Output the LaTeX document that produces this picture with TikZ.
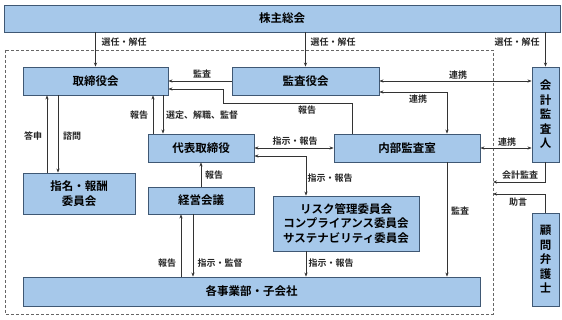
\documentclass[tikz,border=0pt]{standalone}
\usepackage{fontspec}
\setmainfont{Noto Sans CJK JP}[BoldFont={Noto Sans CJK JP Bold}]
\usetikzlibrary{arrows.meta}
\definecolor{boxfill}{HTML}{A6C8EA}
\definecolor{boxline}{HTML}{3F5874}
\definecolor{lncol}{HTML}{333333}
\tikzset{
  box/.style={draw=boxline, fill=boxfill, line width=0.9pt, inner sep=0pt, align=center,
    font=\bfseries\fontsize{11.5}{14.5}\selectfont},
  lab/.style={inner sep=0pt, font=\bfseries\fontsize{9}{11}\selectfont, text=black!85},
  conn/.style={draw=lncol, line width=0.8pt},
  arr/.style={conn, -{Stealth[length=4pt,width=3.2pt]}},
  darr/.style={conn, {Stealth[length=4pt,width=3.2pt]}-{Stealth[length=4pt,width=3.2pt]}},
  grp/.style={draw=gray!80!black, line width=0.8pt, dash pattern=on 3pt off 2pt}
}
\begin{document}
\begin{tikzpicture}[x=1pt,y=-1pt]
\useasboundingbox (0,0) rectangle (562,320);
% group
\draw[grp] (5,50) rectangle (493,314);
\coordinate (gtopright) at (493,50);
% boxes
\node[box, minimum width=556, minimum height=27] (top) at (282,18.5) {株主総会};
\node[box, minimum width=145, minimum height=28] (tor) at (95.5,81) {取締役会};
\node[box, minimum width=147, minimum height=28] (kan) at (305.5,81) {監査役会};
\node[box, minimum width=27, minimum height=95] (kai) at (545.5,114.5) {会\\計\\監\\査\\人};
\node[box, minimum width=106, minimum height=28] (dai) at (201,148) {代表取締役};
\node[box, minimum width=146, minimum height=28] (nai) at (407,148) {内部監査室};
\node[box, minimum width=112, minimum height=41] (shi) at (79,193.5) {指名・報酬\\委員会};
\node[box, minimum width=106, minimum height=27] (kei) at (201,200.5) {経営会議};
\node[box, minimum width=146, minimum height=55] (risk) at (346,223.5) {リスク管理委員会\\コンプライアンス委員会\\サステナビリティ委員会};
\node[box, minimum width=457, minimum height=29] (jig) at (251.5,291.5) {各事業部・子会社};
\node[box, minimum width=27, minimum height=93] (kom) at (545.5,259.5) {顧\\問\\弁\\護\\士};
% connector helper coordinates
\coordinate (g1) at (493,182);
\coordinate (g2) at (493,194);
% 1-3 election
\draw[arr] (top.south -| tor.north) -- (tor.north);
\draw[arr] (top.south -| kan.north) -- (kan.north);
\draw[arr] (top.south -| kai.north) -- (kai.north);
% 4 audit
\draw[arr] (kan.west) -- (tor.east);
% 5 report from internal audit
\draw[arr] (nai.north -| 352,0) -- (352,103) -- (223,103) -- (223,89) -- (tor.east |- 0,89);
% 6
\draw[arr] (dai.north -| 153,0) -- (tor.south -| 153,0);
\draw[arr] (tor.south -| 163,0) -- (dai.north -| 163,0);
% 7
\draw[arr] (shi.north -| 47,0) -- (tor.south -| 47,0);
\draw[arr] (tor.south -| 58,0) -- (shi.north -| 58,0);
% 8
\draw[darr] (kan.east) -- (kai.west |- kan.east);
% 9
\draw[darr] (kan.east |- 0,92) -- (447,92) -- (nai.north -| 447,0);
% 10
\draw[darr] (dai.east) -- (nai.west);
% 11
\draw[darr] (dai.east |- 0,156) -- (306,156) -- (risk.north -| 306,0);
% 12
\draw[darr] (nai.east) -- (kai.west |- nai.east);
% 13
\draw[arr] (kai.south) -- (kai.south |- g1) -- (g1);
% 14
\draw[arr] (kom.north) -- (kom.north |- g2) -- (g2);
% 15
\draw[arr] (kei.north) -- (dai.south);
% 16
\draw[arr] (jig.north -| 181,0) -- (kei.south -| 181,0);
\draw[arr] (kei.south -| 193,0) -- (jig.north -| 193,0);
% 17
\draw[arr] (risk.south -| 306,0) -- (jig.north -| 306,0);
% 18
\draw[arr] (nai.south -| 447,0) -- (jig.north -| 447,0);
% labels
\node[lab] (l1) at (124,42) {選任・解任};
\node[lab] (l2) at (333,42) {選任・解任};
\node[lab] (l3) at (517,42) {選任・解任};
\node[lab] (l4) at (202,74) {監査};
\node[lab] (l5) at (307,110) {報告};
\node[lab] (l6) at (139,115) {報告};
\node[lab] (l7) at (202,115) {選定、解職、監督};
\node[lab] (l8) at (33,136) {答申};
\node[lab] (l9) at (72,136) {諮問};
\node[lab] (l10) at (458,75) {連携};
\node[lab] (l11) at (418,99) {連携};
\node[lab] (l12) at (295,141) {指示・報告};
\node[lab] (l13) at (330,178) {指示・報告};
\node[lab] (l14) at (507,142) {連携};
\node[lab] (l15) at (520,175) {会計監査};
\node[lab] (l16) at (518,202) {助言};
\node[lab] (l17) at (214,175) {報告};
\node[lab] (l18) at (167,263) {報告};
\node[lab] (l19) at (220,263) {指示・監督};
\node[lab] (l20) at (331,263) {指示・報告};
\node[lab] (l21) at (460,211) {監査};
\end{tikzpicture}
\end{document}
